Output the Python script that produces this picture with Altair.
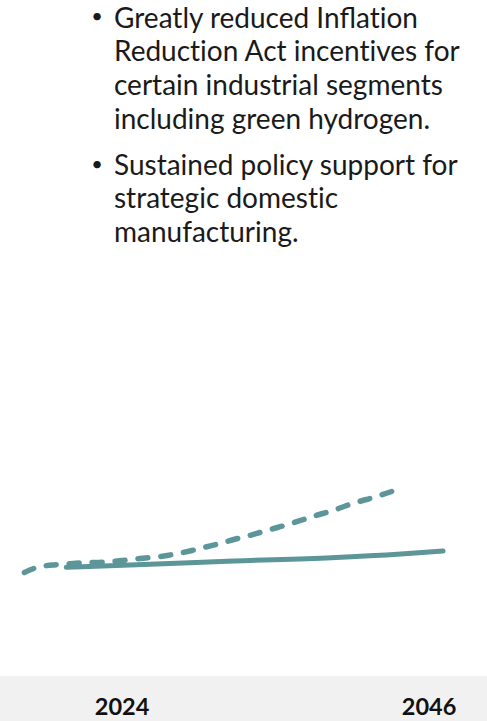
import altair as alt
import pandas as pd

# ---- data ----
dashed_years = list(range(2017, 2045))
dashed_values = [148.5, 154, 156, 157, 158, 158.5, 159, 160.5, 162, 163.5, 165, 167.5,
                 170.5, 174, 177.5, 181.5, 185, 189, 193, 197, 201.5, 206, 210, 215,
                 219.5, 223.5, 228, 233]
solid_years = [2020, 2026, 2032, 2039, 2044, 2047]
solid_values = [153.7, 156.7, 160, 163.3, 167, 170]
tick_years = [2024, 2046]

ZWNJ = "\u200c"  # keeps the "ti" pair from being drawn as a ligature
bullet1 = [f"Greatly reduced Inflat{ZWNJ}ion", f"Reduct{ZWNJ}ion Act incent{ZWNJ}ives for",
           "certain industrial segments", "including green hydrogen."]
bullet2 = ["Sustained policy support for", f"strategic domest{ZWNJ}ic", "manufacturing."]

TEAL = "#5c9699"
FONT = "Lato"

lines_df = pd.DataFrame(
    [{"year": y, "value": v, "series": "Scenario"} for y, v in zip(dashed_years, dashed_values)]
    + [{"year": y, "value": v, "series": "Base"} for y, v in zip(solid_years, solid_values)]
)
ticks_df = pd.DataFrame({"year": tick_years, "label": [str(t) for t in tick_years]})

W, H = 487, 721
xscale = alt.Scale(domain=[2015.25, 2050.15], nice=False, zero=False)
yscale = alt.Scale(domain=[0, 721], nice=False, zero=False)

band = alt.Chart(pd.DataFrame({"a": [0]})).mark_rect(color="#f1f1f1").encode(
    x=alt.value(0), x2=alt.value(W), y=alt.value(676), y2=alt.value(H)
)

solid = alt.Chart(lines_df).transform_filter(alt.datum.series == "Base").mark_line(
    color=TEAL, strokeWidth=5, strokeCap="round", interpolate="monotone"
).encode(
    x=alt.X("year:Q", scale=xscale, axis=None),
    y=alt.Y("value:Q", scale=yscale, axis=None),
)

dashed = alt.Chart(lines_df).transform_filter(alt.datum.series == "Scenario").mark_line(
    color=TEAL, strokeWidth=5.5, strokeCap="round", strokeDash=[10, 13], interpolate="monotone"
).encode(
    x=alt.X("year:Q", scale=xscale, axis=None),
    y=alt.Y("value:Q", scale=yscale, axis=None),
)

tick_labels = alt.Chart(ticks_df).mark_text(
    font=FONT, fontSize=23.5, fontWeight="bold", color="#111111", baseline="middle", align="center"
).encode(
    x=alt.X("year:Q", scale=xscale, axis=None),
    y=alt.value(708),
    text="label:N",
)

def text_block(lines, y0):
    return alt.Chart(pd.DataFrame({"a": [0]})).mark_text(
        font=FONT, fontSize=28, color="#1a1a1a", align="left", baseline="alphabetic",
        lineHeight=33.7, text=lines
    ).encode(x=alt.value(114), y=alt.value(y0))

def bullet(y0):
    return alt.Chart(pd.DataFrame({"a": [0]})).mark_text(
        font=FONT, fontSize=20, color="#1a1a1a", align="center", baseline="middle", text="•"
    ).encode(x=alt.value(97), y=alt.value(y0))

chart = alt.layer(
    band, solid, dashed, tick_labels,
    bullet(17), text_block(bullet1, 27.5),
    bullet(165), text_block(bullet2, 174.5),
).properties(
    width=W, height=H, padding=0, autosize=alt.AutoSizeParams(type="none")
).configure_view(stroke=None)

chart.save("out.html", embed_options={"renderer": "svg", "actions": False})
